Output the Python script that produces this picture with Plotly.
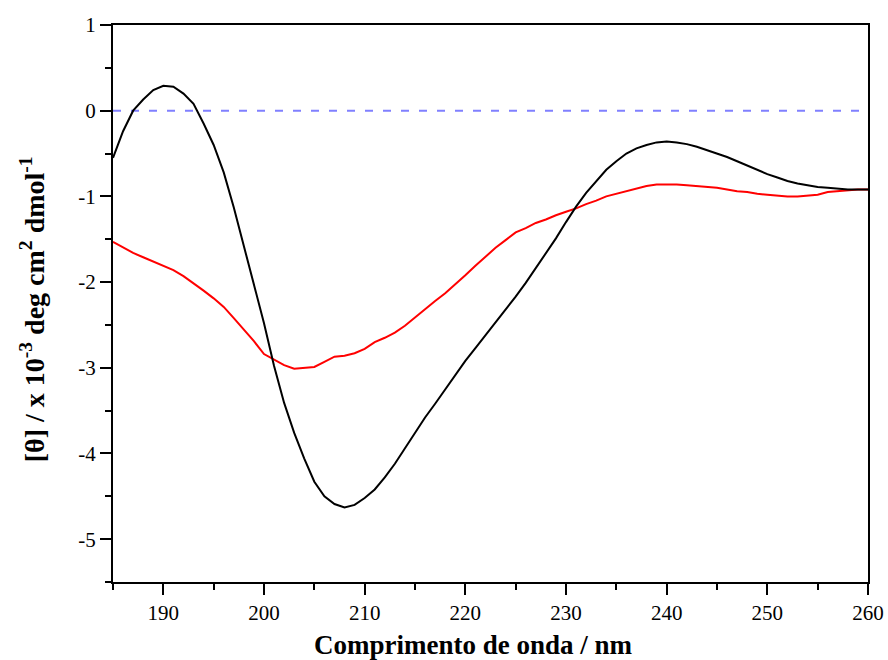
import plotly.graph_objects as go

wavelength = list(range(185, 261))

black_signal = [
    -0.55, -0.24, 0.00, 0.13, 0.24, 0.29, 0.28, 0.20, 0.08, -0.15,
    -0.40, -0.72, -1.13, -1.58, -2.02, -2.48, -2.98, -3.41, -3.76, -4.06,
    -4.33, -4.50, -4.59, -4.63, -4.60, -4.52, -4.42, -4.28, -4.12, -3.94,
    -3.76, -3.58, -3.42, -3.25, -3.08, -2.92, -2.77, -2.62, -2.47, -2.33,
    -2.17, -2.01, -1.84, -1.67, -1.49, -1.30, -1.12, -0.96, -0.82, -0.69,
    -0.59, -0.50, -0.44, -0.40, -0.37, -0.36, -0.37, -0.39, -0.42, -0.46,
    -0.50, -0.54, -0.59, -0.64, -0.69, -0.74, -0.78, -0.82, -0.85, -0.87,
    -0.89, -0.90, -0.91, -0.92, -0.92, -0.92,
]

red_signal = [
    -1.53, -1.60, -1.66, -1.71, -1.76, -1.81, -1.86, -1.93, -2.01, -2.10,
    -2.19, -2.29, -2.42, -2.55, -2.69, -2.84, -2.91, -2.97, -3.01, -3.00,
    -2.99, -2.93, -2.87, -2.86, -2.83, -2.78, -2.70, -2.65, -2.59, -2.51,
    -2.41, -2.31, -2.22, -2.13, -2.03, -1.92, -1.81, -1.70, -1.60, -1.51,
    -1.42, -1.37, -1.31, -1.27, -1.22, -1.18, -1.14, -1.09, -1.05, -1.00,
    -0.97, -0.94, -0.91, -0.88, -0.86, -0.86, -0.86, -0.87, -0.88, -0.89,
    -0.90, -0.92, -0.94, -0.95, -0.97, -0.98, -0.99, -1.00, -1.00, -0.99,
    -0.98, -0.95, -0.94, -0.93, -0.92, -0.92,
]

baseline_x = [185, 260]
baseline_y = [0, 0]

x_tick_vals = [190, 200, 210, 220, 230, 240, 250, 260]
x_tick_text = ["190", "200", "210", "220", "230", "240", "250", "260"]
y_tick_vals = [1, 0, -1, -2, -3, -4, -5]
y_tick_text = ["1", "0", "-1", "-2", "-3", "-4", "-5"]

x_title = "Comprimento de onda / nm"
y_title = "[θ] / x 10<sup>-3</sup> deg cm<sup>2</sup> dmol<sup>-1</sup>"

FONT = "Liberation Serif, Times New Roman, serif"

fig = go.Figure()
fig.add_trace(go.Scatter(x=baseline_x, y=baseline_y, mode="lines",
                         line=dict(color="#8080ff", width=2, dash="8px,10px"),
                         showlegend=False, hoverinfo="skip"))
fig.add_trace(go.Scatter(x=wavelength, y=red_signal, mode="lines",
                         line=dict(color="#ff0000", width=2), showlegend=False))
fig.add_trace(go.Scatter(x=wavelength, y=black_signal, mode="lines",
                         line=dict(color="#000000", width=2), showlegend=False))

fig.update_layout(
    width=888, height=660, autosize=False,
    margin=dict(l=113, r=20, t=25, b=78),
    paper_bgcolor="white", plot_bgcolor="white",
    font=dict(family=FONT, size=21, color="black"),
    showlegend=False,
)
fig.update_xaxes(
    range=[185, 260], tickmode="array", tickvals=x_tick_vals, ticktext=x_tick_text,
    automargin=False,
    showgrid=False, zeroline=False,
    showline=True, linecolor="black", linewidth=2, mirror=True,
    ticks="outside", ticklen=11, tickwidth=2, tickcolor="black",
    minor=dict(dtick=5, tick0=185, ticks="outside", ticklen=6, tickwidth=2, tickcolor="black", showgrid=False),
    tickfont=dict(family=FONT, size=21),
)
fig.update_yaxes(
    range=[-5.5, 1], tickmode="array", tickvals=y_tick_vals, ticktext=y_tick_text,
    automargin=False,
    showgrid=False, zeroline=False,
    showline=True, linecolor="black", linewidth=2, mirror=True,
    ticks="outside", ticklen=11, tickwidth=2, tickcolor="black",
    minor=dict(dtick=0.5, tick0=0, ticks="outside", ticklen=6, tickwidth=2, tickcolor="black", showgrid=False),
    tickfont=dict(family=FONT, size=21),
)

fig.add_annotation(text="<b>" + x_title + "</b>", xref="paper", yref="paper",
                   x=0.478, y=-0.113, xanchor="center", yanchor="middle",
                   showarrow=False, font=dict(family=FONT, size=27, color="black"))
fig.add_annotation(text="<b>" + y_title + "</b>", xref="paper", yref="paper",
                   x=-0.107, y=0.49, xanchor="center", yanchor="middle", textangle=-90,
                   showarrow=False, font=dict(family=FONT, size=28, color="black"))

fig.write_html("out.html", config={"displayModeBar": False},
               post_script="document.body.style.margin='0';document.body.style.overflow='hidden';")
